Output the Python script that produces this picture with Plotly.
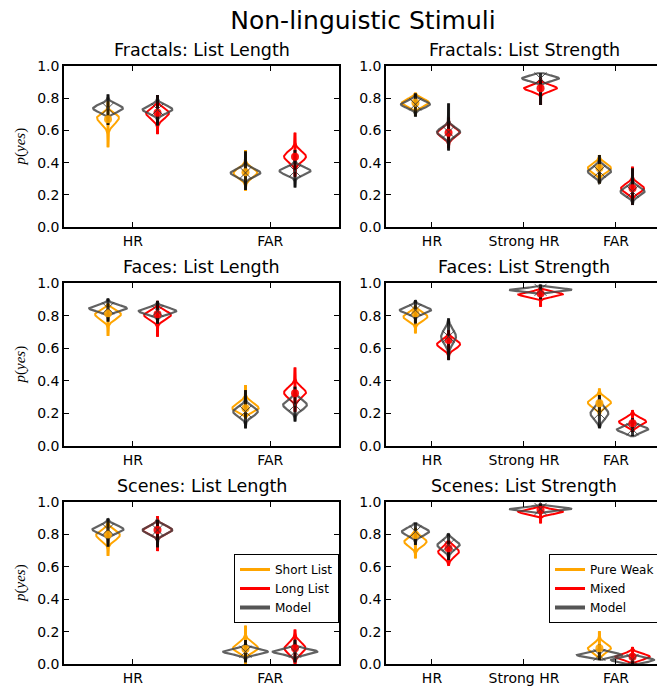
import numpy as np
import plotly.graph_objects as go

ORANGE = "#FFA500"
RED = "#FF0000"
GRAY = "rgba(70,70,70,0.85)"
BAR = "rgba(0,0,0,0.8)"
CENTRE = "rgba(50,50,50,0.85)"

LENGTH_CATS = ["HR", "FAR"]
STRENGTH_CATS = ["HR", "Strong HR", "FAR"]

# Observed conditions: (mode, sd below mode, sd above mode, min, max, mean)
fractals_length_short = [(0.680, 0.040, 0.025, 0.495, 0.780, 0.670), (0.335, 0.030, 0.030, 0.225, 0.478, 0.340)]
fractals_length_long = [(0.708, 0.034, 0.028, 0.577, 0.820, 0.710), (0.437, 0.0325, 0.0325, 0.312, 0.586, 0.437)]
faces_length_short = [(0.808, 0.030, 0.025, 0.675, 0.870, 0.814), (0.231, 0.022, 0.032, 0.170, 0.374, 0.231)]
faces_length_long = [(0.804, 0.028, 0.025, 0.670, 0.890, 0.808), (0.327, 0.032, 0.033, 0.210, 0.482, 0.323)]
scenes_length_short = [(0.796, 0.032, 0.028, 0.667, 0.880, 0.800), (0.097, 0.025, 0.032, 0.000, 0.237, 0.093)]
scenes_length_long = [(0.827, 0.0245, 0.0245, 0.697, 0.913, 0.827), (0.097, 0.034, 0.034, 0.000, 0.213, 0.097)]

fractals_strength_weak = [(0.772, 0.023, 0.023, 0.690, 0.830, 0.772), None, (0.366, 0.027, 0.027, 0.270, 0.447, 0.366)]
fractals_strength_mixed = [(0.586, 0.028, 0.028, 0.490, 0.680, 0.586), (0.862, 0.019, 0.019, 0.758, 0.930, 0.862), (0.240, 0.027, 0.027, 0.137, 0.375, 0.240)]
faces_strength_weak = [(0.793, 0.026, 0.026, 0.691, 0.860, 0.814), None, (0.266, 0.027, 0.027, 0.190, 0.353, 0.262)]
faces_strength_mixed = [(0.624, 0.027, 0.027, 0.530, 0.710, 0.650), (0.930, 0.014, 0.014, 0.854, 0.975, 0.936), (0.149, 0.023, 0.023, 0.090, 0.220, 0.140)]
scenes_strength_weak = [(0.755, 0.028, 0.028, 0.652, 0.840, 0.796), None, (0.097, 0.027, 0.027, 0.025, 0.203, 0.097)]
scenes_strength_mixed = [(0.693, 0.030, 0.030, 0.607, 0.756, 0.714), (0.940, 0.014, 0.014, 0.868, 0.990, 0.950), (0.045, 0.018, 0.018, 0.000, 0.105, 0.045)]

# Model predictions: (centre, sd, min, max)
fractals_length_model_short = [(0.737, 0.024, 0.634, 0.824), (0.336, 0.024, 0.230, 0.470)]
fractals_length_model_long = [(0.730, 0.024, 0.630, 0.820), (0.348, 0.023, 0.245, 0.478)]
faces_length_model_short = [(0.845, 0.019, 0.763, 0.905), (0.211, 0.029, 0.108, 0.343)]
faces_length_model_long = [(0.828, 0.019, 0.750, 0.890), (0.252, 0.030, 0.150, 0.364)]
scenes_length_model_short = [(0.831, 0.023, 0.724, 0.899), (0.076, 0.016, 0.010, 0.148)]
scenes_length_model_long = [(0.827, 0.024, 0.720, 0.890), (0.076, 0.016, 0.010, 0.150)]

fractals_strength_model_weak = [(0.762, 0.0215, 0.685, 0.830), None, (0.345, 0.027, 0.270, 0.447)]
fractals_strength_model_mixed = [(0.590, 0.027, 0.475, 0.768), (0.923, 0.017, 0.758, 0.955), (0.220, 0.026, 0.137, 0.365)]
faces_strength_model_weak = [(0.834, 0.020, 0.752, 0.895), None, (0.200, 0.035, 0.109, 0.312)]
faces_strength_model_mixed = [(0.671, 0.042, 0.527, 0.783), (0.958, 0.010, 0.900, 0.990), (0.102, 0.020, 0.060, 0.170)]
scenes_strength_model_weak = [(0.817, 0.023, 0.735, 0.870), None, (0.056, 0.014, 0.025, 0.120)]
scenes_strength_model_mixed = [(0.734, 0.028, 0.642, 0.806), (0.957, 0.010, 0.930, 0.990), (0.025, 0.0145, 0.000, 0.060)]

PANELS = [
    ("Fractals: List Length", LENGTH_CATS, fractals_length_short, fractals_length_long,
     fractals_length_model_short, fractals_length_model_long),
    ("Fractals: List Strength", STRENGTH_CATS, fractals_strength_weak, fractals_strength_mixed,
     fractals_strength_model_weak, fractals_strength_model_mixed),
    ("Faces: List Length", LENGTH_CATS, faces_length_short, faces_length_long,
     faces_length_model_short, faces_length_model_long),
    ("Faces: List Strength", STRENGTH_CATS, faces_strength_weak, faces_strength_mixed,
     faces_strength_model_weak, faces_strength_model_mixed),
    ("Scenes: List Length", LENGTH_CATS, scenes_length_short, scenes_length_long,
     scenes_length_model_short, scenes_length_model_long),
    ("Scenes: List Strength", STRENGTH_CATS, scenes_strength_weak, scenes_strength_mixed,
     scenes_strength_model_weak, scenes_strength_model_mixed),
]
LEGEND_LABELS = [("Short List", "Long List"), ("Pure Weak", "Mixed")]

W, H = 657, 686
COL_X = [(64 / W, 339 / W), (386 / W, 1.0)]
TITLE_X = [(64 + 339) / 2 / W, (386 + 662) / 2 / W]
ROW_Y = [(1 - 227 / H, 1 - 66 / H), (1 - 446 / H, 1 - 283 / H), (1 - 664 / H, 1 - 502 / H)]
X_RANGES = [[-0.5, 1.5], [-0.5, 2.446]]
DENSITY_SCALE = [0.0065, 0.0085]
OFFSET = 0.18
FONT = "DejaVu Sans"


def split_normal(ys, mode, s_lo, s_hi):
    s = np.where(ys < mode, s_lo, s_hi)
    return 2.0 / (np.sqrt(2 * np.pi) * (s_lo + s_hi)) * np.exp(-0.5 * ((ys - mode) / s) ** 2)


def outline(pos, mode, s_lo, s_hi, lo, hi, scale):
    ys = np.linspace(lo, hi, 160)
    hw = scale * split_normal(ys, mode, s_lo, s_hi)
    xs = np.concatenate([pos + hw, (pos - hw)[::-1], [pos + hw[0]]])
    yy = np.concatenate([ys, ys[::-1], [ys[0]]])
    return list(xs) + [None], list(yy) + [None]


fig = go.Figure()
layout = {}

for i, (title, cats, cond_a, cond_b, model_a, model_b) in enumerate(PANELS):
    row, col = divmod(i, 2)
    suffix = "" if i == 0 else str(i + 1)
    xa, ya = "x" + suffix, "y" + suffix
    scale = DENSITY_SCALE[col]

    data_vx = {ORANGE: ([], []), RED: ([], [])}
    bar_xy = {ORANGE: ([], []), RED: ([], [])}
    dot_xy = {ORANGE: ([], []), RED: ([], [])}
    model_vx, model_vy = [], []
    kx, ky = [], []
    mx, my = [], []

    for color, conds, models, sign in ((ORANGE, cond_a, model_a, -1), (RED, cond_b, model_b, 1)):
        for k, (c, m) in enumerate(zip(conds, models)):
            pos = k + sign * OFFSET
            if c is not None:
                mode, s_lo, s_hi, lo, hi, mean = c
                vx, vy = outline(pos, mode, s_lo, s_hi, lo, hi, scale)
                data_vx[color][0].extend(vx)
                data_vx[color][1].extend(vy)
                bar_xy[color][0].extend([pos, pos, None])
                bar_xy[color][1].extend([lo, hi, None])
                dot_xy[color][0].append(pos)
                dot_xy[color][1].append(mean)
            if m is not None:
                centre, sd, lo, hi = m
                vx, vy = outline(pos, centre, sd, sd, lo, hi, scale)
                model_vx.extend(vx)
                model_vy.extend(vy)
                kx.extend([pos, pos, None])
                ky.extend([lo, hi, None])
                mx.append(pos)
                my.append(centre)

    # violin bodies and extent bars of the observed conditions
    for color in (ORANGE, RED):
        fig.add_trace(go.Scatter(x=data_vx[color][0], y=data_vx[color][1], mode="lines",
                                 line=dict(color=color, width=2), xaxis=xa, yaxis=ya,
                                 showlegend=False, hoverinfo="skip"))
    for color in (ORANGE, RED):
        fig.add_trace(go.Scatter(x=bar_xy[color][0], y=bar_xy[color][1], mode="lines",
                                 line=dict(color=color, width=3), xaxis=xa, yaxis=ya,
                                 showlegend=False, hoverinfo="skip"))
    # model violins with their extent bars
    fig.add_trace(go.Scatter(x=model_vx, y=model_vy, mode="lines",
                             line=dict(color=GRAY, width=2.2), xaxis=xa, yaxis=ya,
                             showlegend=False, hoverinfo="skip"))
    fig.add_trace(go.Scatter(x=kx, y=ky, mode="lines", line=dict(color=BAR, width=3),
                             xaxis=xa, yaxis=ya, showlegend=False, hoverinfo="skip"))
    # observed means
    for color in (ORANGE, RED):
        fig.add_trace(go.Scatter(x=dot_xy[color][0], y=dot_xy[color][1], mode="markers",
                                 marker=dict(color=color, size=8, opacity=0.9, line=dict(width=0)),
                                 xaxis=xa, yaxis=ya, showlegend=False))
    # model centres
    fig.add_trace(go.Scatter(x=mx, y=my, mode="markers",
                             marker=dict(symbol="x-thin", size=12, color=CENTRE,
                                         line=dict(color=CENTRE, width=1)),
                             xaxis=xa, yaxis=ya, showlegend=False))

    if row == 2:
        leg = "legend" if col == 0 else "legend2"
        la, lb = LEGEND_LABELS[col]
        for name, color, width in ((la, ORANGE, 3), (lb, RED, 3), ("Model", "#555555", 4)):
            fig.add_trace(go.Scatter(x=[None], y=[None], mode="lines", name=name,
                                     line=dict(color=color, width=width),
                                     xaxis=xa, yaxis=ya, legend=leg, showlegend=True))

    axis_style = dict(showline=True, linecolor="black", linewidth=1.5, ticks="inside",
                      ticklen=5, tickwidth=1.2, tickcolor="black", showgrid=False,
                      zeroline=False, tickfont=dict(family=FONT, size=14, color="black"))
    layout["xaxis" + suffix] = dict(axis_style, domain=list(COL_X[col]), range=X_RANGES[col],
                                    tickvals=list(range(len(cats))), ticktext=cats,
                                    mirror="ticks", anchor=ya)
    layout["yaxis" + suffix] = dict(axis_style, domain=list(ROW_Y[row]), range=[0, 1],
                                    tickvals=[0, 0.2, 0.4, 0.6, 0.8, 1.0],
                                    ticktext=["0.0", "0.2", "0.4", "0.6", "0.8", "1.0"],
                                    mirror="ticks" if col == 0 else False, anchor=xa)

annotations = []
for i, panel in enumerate(PANELS):
    row, col = divmod(i, 2)
    annotations.append(dict(text=panel[0], x=TITLE_X[col], y=ROW_Y[row][1], xref="paper",
                            yref="paper", xanchor="center", yanchor="bottom", yshift=4,
                            showarrow=False, font=dict(family=FONT, size=17.5, color="black")))
for row in range(3):
    annotations.append(dict(text="<i>p</i>(<i>yes</i>)", x=20 / W, y=sum(ROW_Y[row]) / 2,
                            xref="paper", yref="paper", xanchor="center", yanchor="middle",
                            textangle=-90, showarrow=False,
                            font=dict(family="Liberation Serif", size=15, color="black")))

legend_style = dict(bgcolor="white", bordercolor="black", borderwidth=1,
                    font=dict(family=FONT, size=12, color="black"), tracegroupgap=0,
                    yanchor="top", y=1 - 554 / H)

fig.update_layout(
    width=W, height=H,
    margin=dict(l=0, r=0, t=0, b=0, autoexpand=False),
    paper_bgcolor="white", plot_bgcolor="white",
    title=dict(text="Non-linguistic Stimuli", x=363 / W, xanchor="center", y=1 - 20 / H,
               yanchor="middle", font=dict(family=FONT, size=25, color="black")),
    legend=dict(legend_style, x=339 / W, xanchor="right"),
    legend2=dict(legend_style, x=549 / W, xanchor="left"),
    annotations=annotations,
    **layout,
)

fig.write_html("out.html")
